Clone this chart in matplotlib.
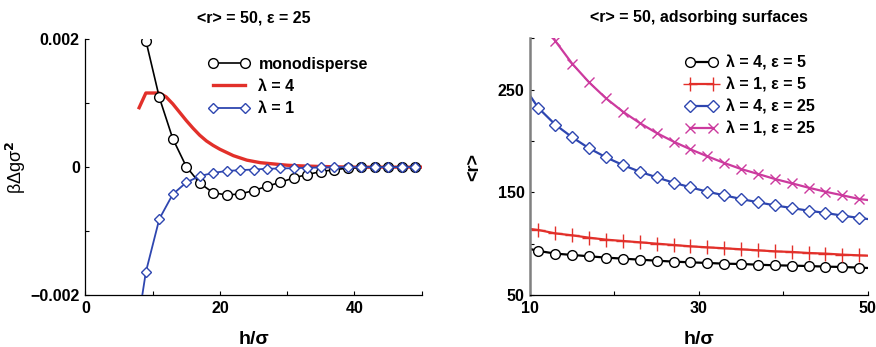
import matplotlib
matplotlib.use("Agg")
import matplotlib.pyplot as plt
from matplotlib.ticker import MultipleLocator

plt.rcParams['font.family'] = ['Liberation Sans', 'DejaVu Sans']
plt.rcParams['font.weight'] = 'bold'

# ---------------- left panel data ----------------
mono_x = [9, 11, 13, 15, 17, 19, 21, 23, 25, 27, 29, 31, 33, 35, 37, 39, 41, 43, 45, 47, 49]
mono_y = [0.00198, 0.00109, 0.000445, 0.00001, -0.00025, -0.0004, -0.000435, -0.00042,
          -0.000367, -0.0003, -0.000236, -0.000168, -0.000115, -0.00007, -0.00004,
          -0.000016, -0.000005, 0.0, 0.0, 0.0, 0.0]

lam4_x = [8, 9, 10, 11, 12, 13, 14, 15, 16, 17, 18, 19, 20, 22, 24, 26, 28, 30, 32, 35, 40, 45, 50]
lam4_y = [0.00093, 0.00116, 0.00116, 0.00116, 0.00110, 0.00099, 0.00086, 0.00073, 0.00061,
          0.00050, 0.00041, 0.00034, 0.00028, 0.00018, 0.00011, 0.00007, 0.00005,
          0.00003, 0.00002, 0.00001, 0.0, 0.0, 0.0]

lam1_x = [7, 9, 11, 13, 15, 17, 19, 21, 23, 25, 27, 29, 31, 33, 35, 37, 39, 41, 43, 45, 47, 49]
lam1_y = [-0.0030, -0.00164, -0.00081, -0.000424, -0.00024, -0.00014, -0.00009, -0.00006,
          -0.000047, -0.000037, -0.000026, -0.00002, -0.000016, -0.00001, -0.000005,
          0.0, 0.0, 0.0, 0.0, 0.0, 0.0, 0.0]

# ---------------- right panel data ----------------
r_x = [10, 11, 13, 15, 17, 19, 21, 23, 25, 27, 29, 31, 33, 35, 37, 39, 41, 43, 45, 47, 49, 50]
r_l4e5 = [94.8, 92.9, 90.3, 89.0, 87.7, 86.4, 85.4, 84.4, 83.4, 82.5, 81.8, 81.2, 80.5, 80.2,
          79.5, 78.9, 78.6, 78.2, 77.6, 77.3, 76.6, 76.3]
r_l1e5 = [114.3, 113.3, 110.0, 108.1, 105.8, 103.9, 102.6, 101.3, 100.0, 98.7, 97.4, 96.4,
          95.5, 94.5, 93.5, 92.5, 91.9, 90.9, 90.3, 89.3, 88.6, 88.3]
r_l4e25 = [244.2, 232.1, 215.9, 203.6, 192.9, 184.1, 176.6, 170.1, 164.6, 159.4, 154.9, 150.6,
           147.1, 143.5, 140.3, 137.3, 134.7, 132.1, 129.9, 127.3, 125.0, 124.0]
r_l1e25_x = [11, 13, 15, 17, 19, 21, 23, 25, 27, 29, 31, 33, 35, 37, 39, 41, 43, 45, 47, 49, 50]
r_l1e25 = [330.0, 297.4, 275.3, 257.1, 241.6, 228.6, 217.5, 207.8, 199.4, 191.9, 185.1, 178.6,
           172.7, 167.9, 163.0, 158.8, 154.5, 150.6, 147.1, 143.5, 142.5]

left_xticks = [0, 20, 40]
left_yticks = [-0.002, 0, 0.002]
left_yticklabels = ['\u22120.002', '0', '0.002']
right_xticks = [10, 30, 50]
right_yticks = [50, 150, 250]

RED = '#e2302a'
BLUE = '#2e46b0'
MAG = '#cc3a9e'

fig = plt.figure(figsize=(8.76, 3.47), dpi=100)
ax1 = fig.add_axes([0.0974, 0.1499, 0.384, 0.7368])
ax2 = fig.add_axes([0.605, 0.1499, 0.3855, 0.7397])

FS = 11.5

# ---- left panel ----
ax1.plot(mono_x, mono_y, color='black', lw=1.2, marker='o', ms=7, mfc='white', mec='black',
         mew=1.0, label='monodisperse', zorder=3)
ax1.plot(lam4_x, lam4_y, color=RED, lw=2.4, label='\u03bb = 4', zorder=2)
ax1.plot(lam1_x, lam1_y, color=BLUE, lw=1.3, marker='D', ms=5.5, mfc='white', mec=BLUE,
         mew=1.0, label='\u03bb = 1', zorder=4)
ax1.set_xlim(0, 50)
ax1.set_ylim(-0.002, 0.002)
ax1.set_xticks(left_xticks)
ax1.set_yticks(left_yticks)
ax1.set_yticklabels(left_yticklabels)
ax1.xaxis.set_minor_locator(MultipleLocator(10))
ax1.yaxis.set_minor_locator(MultipleLocator(0.001))
ax1.set_title('<r> = 50, \u03b5 = 25', fontsize=FS, fontweight='bold', pad=12)
ax1.set_xlabel('h/\u03c3', fontsize=14, fontweight='bold')
ax1.xaxis.set_label_coords(0.5, -0.14)
ax1.set_ylabel('\u03b2\u0394g\u03c3$^{2}$', fontsize=13, fontweight='normal')
ax1.yaxis.set_label_coords(-0.17, 0.5)
leg1 = ax1.legend(loc='upper left', bbox_to_anchor=(0.365, 0.932), frameon=False,
                  numpoints=2, handlelength=2.6, handletextpad=0.55, labelspacing=0.46,
                  borderpad=0, borderaxespad=0, prop={'size': FS, 'weight': 'bold'})

# ---- right panel ----
ax2.plot(r_x, r_l4e5, color='black', lw=1.6, marker='o', ms=7, mfc='white', mec='black',
         mew=1.0, markevery=list(range(1, len(r_x) - 1)), label='\u03bb = 4, \u03b5 = 5')
ax2.plot(r_x, r_l1e5, color=RED, lw=1.6, marker='+', ms=10, mec=RED, mew=1.0,
         markevery=list(range(1, len(r_x) - 1)), label='\u03bb = 1, \u03b5 = 5')
ax2.plot(r_x, r_l4e25, color=BLUE, lw=1.6, marker='D', ms=6, mfc='white', mec=BLUE,
         mew=1.0, markevery=list(range(1, len(r_x) - 1)), label='\u03bb = 4, \u03b5 = 25')
ax2.plot(r_l1e25_x, r_l1e25, color=MAG, lw=1.6, marker='x', ms=7, mec=MAG, mew=1.0,
         markevery=list(range(0, len(r_l1e25_x) - 1)), label='\u03bb = 1, \u03b5 = 25')
ax2.set_xlim(10, 50)
ax2.set_ylim(50, 300)
ax2.set_xticks(right_xticks)
ax2.set_yticks(right_yticks)
ax2.xaxis.set_minor_locator(MultipleLocator(10))
ax2.yaxis.set_minor_locator(MultipleLocator(50))
ax2.set_title('<r> = 50, adsorbing surfaces', fontsize=FS, fontweight='bold', pad=12)
ax2.set_xlabel('h/\u03c3', fontsize=14, fontweight='bold')
ax2.xaxis.set_label_coords(0.5, -0.14)
ax2.set_ylabel('<r>', fontsize=13, fontweight='bold')
ax2.yaxis.set_label_coords(-0.142, 0.5)
leg2 = ax2.legend(loc='upper left', bbox_to_anchor=(0.461, 0.933), frameon=False,
                  numpoints=2, handlelength=2.0, handletextpad=0.5, labelspacing=0.44,
                  borderpad=0, borderaxespad=0, prop={'size': FS, 'weight': 'bold'})

for ax in (ax1, ax2):
    ax.spines['top'].set_visible(False)
    ax.spines['right'].set_visible(False)
    ax.tick_params(which='major', direction='in', length=3, width=0.8, labelsize=FS, pad=4)
    ax.tick_params(which='minor', direction='in', length=3, width=0.8)
    for lab in ax.get_xticklabels() + ax.get_yticklabels():
        lab.set_fontweight('bold')

ax2.spines['left'].set_color('#808080')
ax2.spines['left'].set_linewidth(1.8)
ax1.spines['left'].set_linewidth(0.9)
ax1.spines['bottom'].set_linewidth(0.9)
ax2.spines['bottom'].set_linewidth(0.9)

fig.savefig('out.png', dpi=100)
